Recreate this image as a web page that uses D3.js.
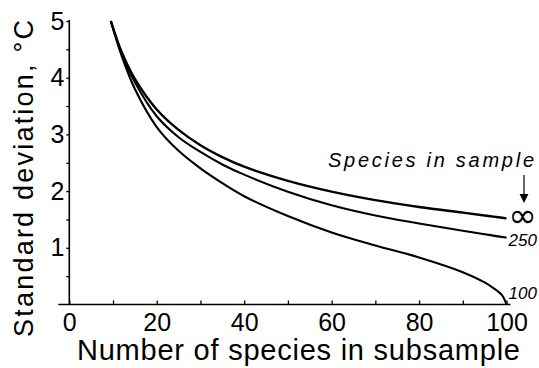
<!DOCTYPE html>
<html lang="en">
<head>
    <meta charset="UTF-8">
    <title>Standard deviation vs subsample size</title>
    <script src="https://cdn.jsdelivr.net/npm/d3@7/dist/d3.min.js"></script>
    <style>
        body { margin: 0; background: #fff; }
        text { font-family: "Liberation Sans", Arial, Helvetica, sans-serif; fill: #000; }
    </style>
</head>
<body>
<svg width="539" height="368"></svg>
<script>

    // number of species in subsample
    var nSub = [9.5, 12, 15, 20, 25, 30, 35, 40, 50, 60, 70, 80, 90, 95, 97, 99, 100];
    // standard deviation for each number of species in the sample
    var sdInf = [5.0, 4.45, 3.98, 3.44, 3.08, 2.81, 2.60, 2.43, 2.18, 1.99, 1.84, 1.72, 1.62, 1.57, 1.55, 1.53, 1.52];
    var sd250 = [5.0, 4.42, 3.92, 3.32, 2.95, 2.69, 2.47, 2.29, 1.99, 1.75, 1.57, 1.43, 1.30, 1.24, 1.215, 1.19, 1.18];
    var sd100 = [5.0, 4.38, 3.80, 3.13, 2.71, 2.40, 2.14, 1.91, 1.56, 1.27, 1.04, 0.83, 0.57, 0.39, 0.29, 0.16, 0];

    var seriesNames = ['\u221e', '250', '100'];
    var xTicks = [0, 20, 40, 60, 80, 100];
    var xMinor = [10, 30, 50, 70, 90];
    var yTicks = [1, 2, 3, 4, 5];
    var yMinor = [0.5, 1.5, 2.5, 3.5, 4.5];

    var svg = d3.select('svg');

    var x = d3.scaleLinear().domain([0, 100]).range([69.3, 506.5]);
    var y = d3.scaleLinear().domain([0, 5]).range([304.5, 21]);

    // x axis
    var gx = svg.append('g').attr('transform', 'translate(0,' + y(0) + ')');
    gx.call(d3.axisBottom(x).tickValues(xTicks).tickSize(-4).tickPadding(8))
        .call(function(g){ g.select('.domain').remove(); });
    gx.selectAll('text').style('font-size', '25px').attr('dy', '0.72em');
    gx.append('g').call(d3.axisBottom(x).tickValues(xMinor).tickSize(-4).tickFormat(''))
        .select('.domain').remove();
    gx.append('line')
        .attr('x1', x.range()[0] - 11).attr('x2', x.range()[1] + 4)
        .attr('stroke', '#000').attr('stroke-width', 1.6);

    // y axis
    var gy = svg.append('g').attr('transform', 'translate(' + x(0) + ',0)');
    gy.call(d3.axisLeft(y).tickValues(yTicks).tickSize(3).tickPadding(2).tickFormat(d3.format('d')))
        .call(function(g){ g.select('.domain').remove(); });
    gy.selectAll('text').style('font-size', '25px');
    gy.append('g').call(d3.axisLeft(y).tickValues(yMinor).tickSize(3).tickFormat(''))
        .select('.domain').remove();
    gy.append('line')
        .attr('y1', y(0)).attr('y2', y(5) - 1)
        .attr('stroke', '#000').attr('stroke-width', 1.6);

    svg.selectAll('.tick line').attr('stroke', '#000').attr('stroke-width', 1.3);

    // curves
    var series = [sdInf, sd250, sd100];
    var line = d3.line()
        .x(function(d, i){ return x(nSub[i]); })
        .y(function(d){ return y(d); })
        .curve(d3.curveCatmullRom.alpha(0.5));

    svg.selectAll('path.curve')
        .data(series)
        .enter().append('path')
        .attr('class', 'curve')
        .attr('d', line)
        .attr('fill', 'none')
        .attr('stroke', '#000')
        .attr('stroke-width', function(d, i){ return i == 0 ? 2.4 : 2.1; });

    // end labels
    svg.append('text')
        .attr('x', x(100) + 2).attr('y', y(sdInf[sdInf.length - 1]) + 9)
        .style('font-family', '"DejaVu Sans", sans-serif')
        .style('font-size', '34px')
        .text(seriesNames[0]);
    svg.append('text')
        .attr('x', x(100) + 2).attr('y', y(sd250[sd250.length - 1]) + 8)
        .style('font-size', '17px').style('font-style', 'italic')
        .text(seriesNames[1]);
    svg.append('text')
        .attr('x', x(100) + 2).attr('y', y(sd100[sd100.length - 1]) - 6)
        .style('font-size', '17px').style('font-style', 'italic')
        .text(seriesNames[2]);

    svg.append('text')
        .attr('x', 328).attr('y', 167)
        .attr('textLength', 206).attr('lengthAdjust', 'spacing')
        .style('font-size', '20px').style('font-style', 'italic')
        .text('Species in sample');

    // arrow
    svg.append('line')
        .attr('x1', 524).attr('x2', 524).attr('y1', 175).attr('y2', 197)
        .attr('stroke', '#000').attr('stroke-width', 1.2);
    svg.append('path')
        .attr('d', 'M519.5,194 L528.5,194 L524,203 Z')
        .attr('fill', '#000');

    // axis titles
    svg.append('text')
        .attr('x', 298.5).attr('y', 360)
        .attr('text-anchor', 'middle')
        .attr('textLength', 443).attr('lengthAdjust', 'spacing')
        .style('font-size', '29px')
        .text('Number of species in subsample');

    svg.append('text')
        .attr('transform', 'translate(33,178.5) rotate(-90)')
        .attr('text-anchor', 'middle')
        .attr('textLength', 317).attr('lengthAdjust', 'spacing')
        .style('font-size', '27px')
        .text('Standard deviation, \u00b0C');

</script>
</body>
</html>
